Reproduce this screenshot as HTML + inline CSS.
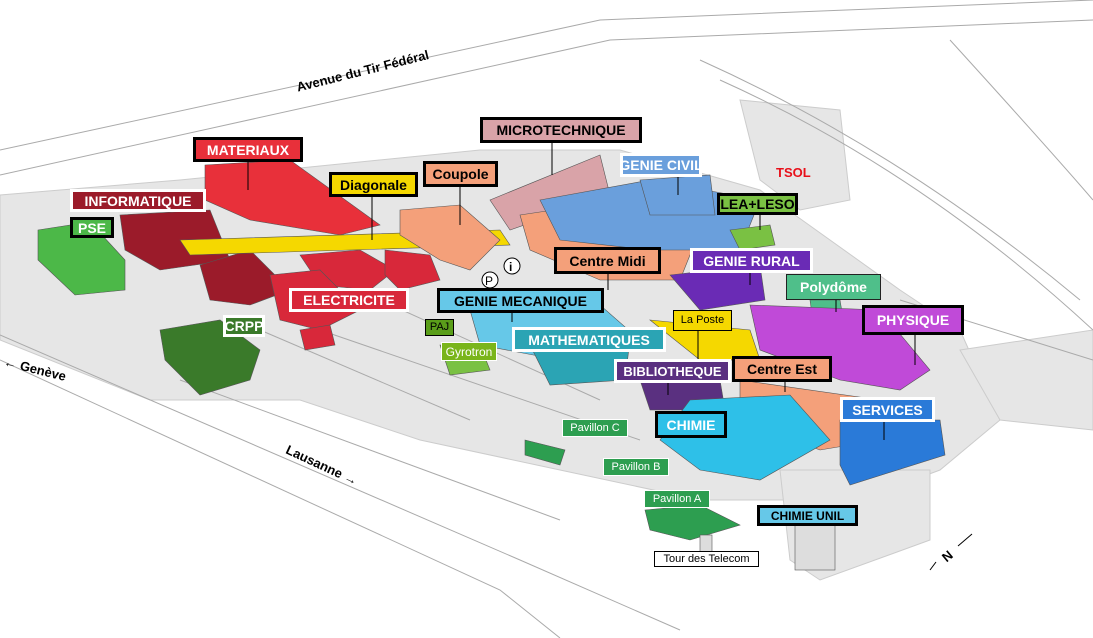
<!DOCTYPE html>
<html><head><meta charset="utf-8"><style>
body{margin:0;width:1093px;height:638px;background:#fff;overflow:hidden;position:relative;font-family:"Liberation Sans",sans-serif}
svg{position:absolute;left:0;top:0}
.l{position:absolute;font-weight:bold;font-size:14px;line-height:1;display:flex;align-items:center;justify-content:center;box-sizing:border-box;border:3px solid #fff;white-space:nowrap;color:#fff}
.b{border:3px solid #000;color:#000}
.bw{border:3px solid #000;color:#fff}
.s{font-weight:normal;font-size:11px;border:1px solid #fff}
.t{position:absolute;font-weight:bold;font-size:13px;color:#000;white-space:nowrap}
</style></head><body>
<svg width="1093" height="638" viewBox="0 0 1093 638">
<g fill="#e6e6e6" stroke="#ccc">
<polygon points="0,195 180,180 480,150 620,150 760,190 900,290 960,330 1000,420 940,470 860,500 700,500 560,470 420,440 300,400 150,400 0,340"/>
<polygon points="960,350 1093,330 1093,430 1000,420"/>
<polygon points="780,470 930,470 930,540 820,580 790,560"/>
<polygon points="740,100 840,110 850,200 800,210 760,180"/>
</g>
<g fill="none" stroke="#aaa" stroke-width="1">
<path d="M0 150 L600 20 L1093 0"/><path d="M0 175 L610 40 L1093 20"/>
<path d="M0 335 L520 560 L680 630"/><path d="M0 360 L500 590 L560 638"/>
<path d="M700 60 Q900 150 1080 300"/><path d="M720 80 Q920 170 1093 330"/>
<path d="M950 40 Q1050 150 1093 200"/><path d="M180 380 L560 520"/>
<path d="M320 330 L640 440"/><path d="M900 300 L1093 360"/>
<path d="M260 330 L470 420"/><path d="M380 300 L600 400"/>
</g>
<g stroke="#555" stroke-width="0.6">
<polygon points="38,230 90,222 125,260 125,290 75,295 38,260" fill="#4cb848"/>
<polygon points="205,165 290,160 380,225 340,235 250,220 205,200" fill="#e8303a"/>
<polygon points="120,215 210,210 230,260 160,270 125,250" fill="#9b1b2a"/>
<polygon points="200,265 250,250 290,290 250,305 210,300" fill="#9b1b2a"/>
<polygon points="300,255 360,250 395,270 370,290 320,285" fill="#d8283a"/>
<polygon points="385,250 430,255 440,280 400,290 385,275" fill="#d8283a"/>
<polygon points="270,275 320,270 360,310 320,330 280,320" fill="#d8283a"/>
<polygon points="300,330 330,325 335,345 305,350" fill="#d8283a"/>
<polygon points="180,240 500,230 510,245 190,255" fill="#f5d800"/>
<polygon points="400,210 460,205 500,240 470,270 440,260 400,235" fill="#f4a07a"/>
<polygon points="490,200 600,155 610,195 510,230" fill="#d9a3a8"/>
<polygon points="520,215 620,200 700,230 680,280 600,280 530,250" fill="#f4a07a"/>
<polygon points="540,200 650,180 760,200 740,250 650,250 560,240" fill="#6a9fdc"/>
<polygon points="640,180 710,175 715,215 650,215" fill="#6a9fdc"/>
<polygon points="730,230 770,225 775,245 740,250" fill="#7ac143"/>
<polygon points="670,275 760,265 765,300 700,310" fill="#6a2bb5"/>
<polygon points="810,300 840,300 845,330 815,335" fill="#4fbf8a"/>
<polygon points="750,305 880,310 930,370 900,390 840,380 760,350" fill="#c04ad8"/>
<polygon points="650,320 750,330 760,360 700,360" fill="#f5d800"/>
<polygon points="470,310 600,305 640,340 560,360 480,345" fill="#66c8e8"/>
<polygon points="530,345 630,340 625,380 550,385" fill="#2ba4b4"/>
<polygon points="640,380 720,380 725,410 650,410" fill="#5a3080"/>
<polygon points="740,380 880,400 880,440 820,450 740,420" fill="#f4a07a"/>
<polygon points="690,400 790,395 830,440 760,480 700,470 660,440" fill="#2ec0e8"/>
<polygon points="840,420 940,420 945,455 850,485 840,465" fill="#2a7ad8"/>
<polygon points="160,330 220,320 260,350 250,380 200,395 165,360" fill="#3a7a2a"/>
<polygon points="440,345 480,345 490,370 450,375" fill="#7ac143"/>
<polygon points="525,440 565,450 560,465 525,455" fill="#2d9e50"/>
<polygon points="645,510 700,505 740,525 690,540 650,530" fill="#2d9e50"/>
<rect x="795" y="525" width="40" height="45" fill="#ddd"/>
<rect x="700" y="535" width="12" height="30" fill="#ddd"/>
</g>
<g stroke="#000" stroke-width="1">
<line x1="248" y1="160" x2="248" y2="190"/><line x1="372" y1="196" x2="372" y2="240"/>
<line x1="460" y1="186" x2="460" y2="225"/><line x1="552" y1="142" x2="552" y2="175"/>
<line x1="678" y1="176" x2="678" y2="195"/><line x1="760" y1="214" x2="760" y2="230"/>
<line x1="608" y1="273" x2="608" y2="290"/><line x1="750" y1="272" x2="750" y2="285"/>
<line x1="836" y1="298" x2="836" y2="312"/><line x1="915" y1="334" x2="915" y2="365"/>
<line x1="698" y1="330" x2="698" y2="360"/><line x1="785" y1="381" x2="785" y2="392"/>
<line x1="884" y1="421" x2="884" y2="440"/><line x1="668" y1="382" x2="668" y2="395"/>
<line x1="512" y1="311" x2="512" y2="322"/>
<line x1="930" y1="570" x2="936" y2="562"/><line x1="958" y1="546" x2="972" y2="534"/>
</g>
<circle cx="490" cy="280" r="8" fill="#fff" stroke="#000"/><text x="485" y="285" font-size="12" font-family="Liberation Sans">P</text>
<circle cx="512" cy="266" r="8" fill="#fff" stroke="#000"/><text x="509" y="271" font-size="12" font-family="Liberation Sans" font-weight="bold">i</text>
<text x="942" y="560" font-size="13" font-weight="bold" font-family="Liberation Sans" transform="rotate(-40 948 555)">N</text>
</svg>
<div class="t" style="left:295px;top:80px;transform:rotate(-14deg);transform-origin:left top">Avenue du Tir Fédéral</div>
<div class="t" style="left:6px;top:354px;transform:rotate(14deg);transform-origin:left top">← Genève</div>
<div class="t" style="left:290px;top:442px;transform:rotate(25deg);transform-origin:left top">Lausanne →</div>
<div class="l bw" style="left:193px;top:137px;width:110px;height:25px;background:#e8303a">MATERIAUX</div>
<div class="l" style="left:70px;top:189px;width:136px;height:23px;background:#9b1b2a">INFORMATIQUE</div>
<div class="l bw" style="left:70px;top:217px;width:44px;height:21px;background:#4cb848">PSE</div>
<div class="l b" style="left:329px;top:172px;width:89px;height:25px;background:#f5d800">Diagonale</div>
<div class="l b" style="left:423px;top:161px;width:75px;height:26px;background:#f4a07a">Coupole</div>
<div class="l b" style="left:480px;top:117px;width:162px;height:26px;background:#d9a3a8">MICROTECHNIQUE</div>
<div class="l" style="left:620px;top:153px;width:82px;height:24px;background:#6a9fdc">GENIE CIVIL</div>
<div class="t" style="left:776px;top:165px;color:#e8101a">TSOL</div>
<div class="l b" style="left:717px;top:193px;width:81px;height:22px;background:#7ac143">LEA+LESO</div>
<div class="l b" style="left:554px;top:247px;width:107px;height:27px;background:#f4a07a">Centre Midi</div>
<div class="l" style="left:690px;top:248px;width:123px;height:25px;background:#6a2bb5">GENIE RURAL</div>
<div class="l" style="left:786px;top:274px;width:95px;height:26px;background:#4fbf8a;border-color:#222;border-width:1px">Polydôme</div>
<div class="l" style="left:289px;top:288px;width:120px;height:24px;background:#d8283a">ELECTRICITE</div>
<div class="l b" style="left:437px;top:288px;width:167px;height:25px;background:#66c8e8">GENIE MECANIQUE</div>
<div class="l s" style="left:425px;top:319px;width:29px;height:17px;background:#5a9e1a;color:#000;border-color:#000">PAJ</div>
<div class="l s" style="left:673px;top:310px;width:59px;height:21px;background:#f5d800;color:#000;border-color:#000">La Poste</div>
<div class="l bw" style="left:862px;top:305px;width:102px;height:30px;background:#c04ad8">PHYSIQUE</div>
<div class="l s" style="left:441px;top:342px;width:56px;height:19px;background:#7ab51a;font-size:12px">Gyrotron</div>
<div class="l" style="left:512px;top:327px;width:154px;height:25px;background:#2ba4b4">MATHEMATIQUES</div>
<div class="l" style="left:223px;top:315px;width:42px;height:22px;background:#3a7a2a">CRPP</div>
<div class="l" style="left:614px;top:359px;width:117px;height:24px;background:#5a3080;font-size:13px">BIBLIOTHEQUE</div>
<div class="l b" style="left:732px;top:356px;width:100px;height:26px;background:#f4a07a">Centre Est</div>
<div class="l" style="left:840px;top:397px;width:95px;height:25px;background:#2a7ad8">SERVICES</div>
<div class="l bw" style="left:655px;top:411px;width:72px;height:27px;background:#2ec0e8">CHIMIE</div>
<div class="l s" style="left:562px;top:419px;width:66px;height:18px;background:#2d9e50">Pavillon C</div>
<div class="l s" style="left:603px;top:458px;width:66px;height:18px;background:#2d9e50">Pavillon B</div>
<div class="l s" style="left:644px;top:490px;width:66px;height:18px;background:#2d9e50">Pavillon A</div>
<div class="l b" style="left:757px;top:505px;width:101px;height:21px;background:#66c8e8;font-size:12px">CHIMIE UNIL</div>
<div class="l s" style="left:654px;top:551px;width:105px;height:16px;background:#fff;color:#000;border-color:#000">Tour des Telecom</div>
</body></html>
